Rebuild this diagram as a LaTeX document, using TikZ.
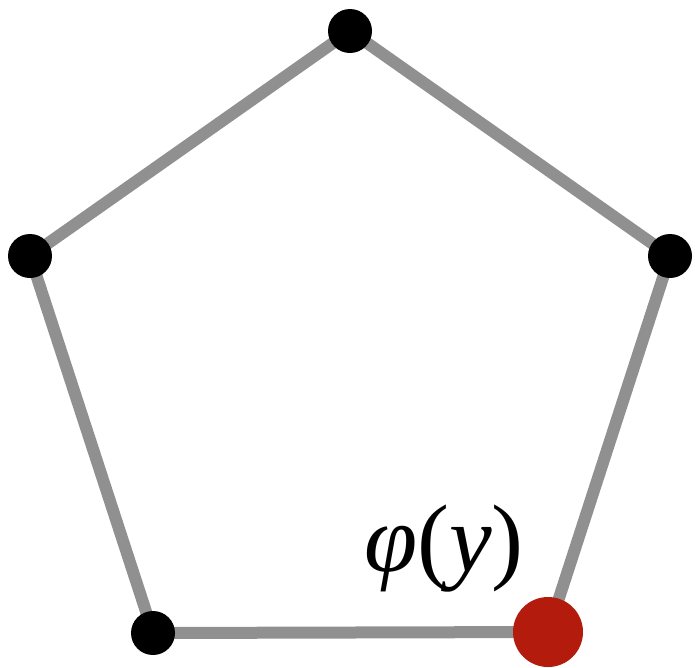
\documentclass[tikz,border=0pt]{standalone}
\usepackage{fontspec}
\setmainfont{Liberation Serif}
\definecolor{edgegray}{HTML}{909090}
\definecolor{dotred}{HTML}{B31B0C}
\begin{document}
\begin{tikzpicture}[x=1pt,y=-1pt,
  edge/.style={draw=edgegray,line width=12pt},
  vdot/.style={circle,fill=black,minimum size=44pt,inner sep=0pt},
  rdot/.style={circle,fill=dotred,minimum size=70pt,inner sep=0pt}]
\useasboundingbox (0,0) rectangle (695,667);
\coordinate (t) at (350,31);
\coordinate (l) at (30,256);
\coordinate (r) at (670,256);
\coordinate (bl) at (153,633);
\coordinate (br) at (548,632);
\draw[edge] (t) -- (r) -- (br) -- (bl) -- (l) -- cycle;
\node[vdot] (nt) at (t) {};
\node[vdot] (nl) at (l) {};
\node[vdot] (nr) at (r) {};
\node[vdot] (nbl) at (bl) {};
\node[rdot] (nbr) at (br) {};
\node[anchor=base west,inner sep=0pt,font=\fontsize{96}{100}\selectfont] (lab) at (364,571) {\textit{φ}(\textit{y})};
\end{tikzpicture}
\end{document}
